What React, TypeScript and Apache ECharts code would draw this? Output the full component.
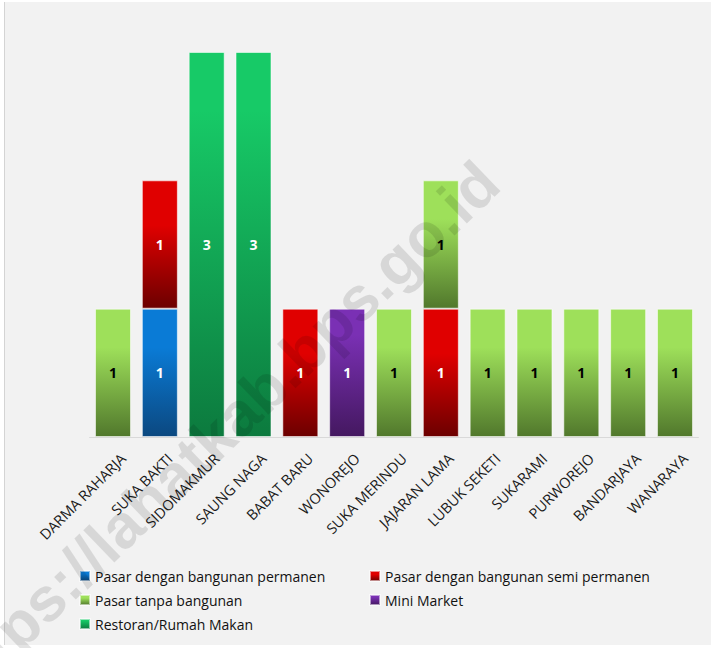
import React, { useEffect, useRef } from "react";
import * as echarts from "echarts";

const categories = [
  "DARMA RAHARJA",
  "SUKA BAKTI",
  "SIDOMAKMUR",
  "SAUNG NAGA",
  "BABAT BARU",
  "WONOREJO",
  "SUKA MERINDU",
  "JAJARAN LAMA",
  "LUBUK SEKETI",
  "SUKARAMI",
  "PURWOREJO",
  "BANDARJAYA",
  "WANARAYA",
];

const seriesNames = [
  "Pasar dengan bangunan permanen",
  "Pasar dengan bangunan semi permanen",
  "Pasar tanpa bangunan",
  "Mini Market",
  "Restoran/Rumah Makan",
];

const permanen = [null, 1, null, null, null, null, null, null, null, null, null, null, null];
const semiPermanen = [null, 1, null, null, 1, null, null, 1, null, null, null, null, null];
const tanpaBangunan = [1, null, null, null, null, null, 1, 1, 1, 1, 1, 1, 1];
const miniMarket = [null, null, null, null, null, 1, null, null, null, null, null, null, null];
const restoran = [null, null, 3, 3, null, null, null, null, null, null, null, null, null];

const watermark = "https://lahatkab.bps.go.id";

const grad = (top: string, bottom: string, hold = 0.3) =>
  new echarts.graphic.LinearGradient(0, 0, 0, 1, [
    { offset: 0, color: top },
    { offset: hold, color: top },
    { offset: 1, color: bottom },
  ]);

export default function App() {
  const ref = useRef<HTMLDivElement>(null);

  useEffect(() => {
    if (!ref.current) return;
    const chart = echarts.init(ref.current, undefined, { renderer: "svg" });

    const palette = [
      { c: grad("#0a7bd6", "#0b4880"), label: "#ffffff" },
      { c: grad("#e00000", "#6c0000", 0.35), label: "#ffffff" },
      { c: grad("#9ee05a", "#51782c", 0.3), label: "#000000" },
      { c: grad("#7a30b4", "#441860", 0.2), label: "#ffffff" },
      { c: grad("#17ca67", "#0c7a3e", 0.15), label: "#ffffff" },
    ];
    const dataSets = [permanen, semiPermanen, tanpaBangunan, miniMarket, restoran];

    const gridLeft = 89.6;
    const gridRight = 12.6;
    const gridTop = 52;
    const gridBottom = 211;
    const labelShift = 10;

    const legendPos = [
      { left: 79, top: 569 },
      { left: 369, top: 569 },
      { left: 79, top: 593 },
      { left: 369, top: 593 },
      { left: 79, top: 617 },
    ];

    const option: any = {
      animation: false,
      backgroundColor: "transparent",
      textStyle: { fontFamily: "Open Sans" },
      grid: [
        { left: gridLeft, right: gridRight, top: gridTop, bottom: gridBottom },
        {
          left: gridLeft + labelShift,
          right: gridRight - labelShift,
          top: gridTop,
          bottom: gridBottom,
        },
      ],
      xAxis: [
        {
          type: "category",
          data: categories,
          gridIndex: 0,
          axisLine: { show: true, lineStyle: { color: "#d9d9d9", width: 1 } },
          axisTick: { show: false },
          axisLabel: { show: false },
        },
        {
          type: "category",
          data: categories,
          gridIndex: 1,
          axisLine: { show: false },
          axisTick: { show: false },
          axisLabel: {
            show: true,
            interval: 0,
            rotate: 45,
            margin: 19,
            fontSize: 14.5,
            color: "#1a1a1a",
            fontFamily: "Open Sans",
          },
        },
      ],
      yAxis: [
        { type: "value", min: 0, max: 3, gridIndex: 0, show: false },
        { type: "value", min: 0, max: 3, gridIndex: 1, show: false },
      ],
      legend: seriesNames.map((name, i) => ({
        data: [name],
        left: legendPos[i].left,
        top: legendPos[i].top,
        icon: "rect",
        itemWidth: 10,
        itemHeight: 10,
        padding: 0,
        selectedMode: false,
        textStyle: { fontSize: 14, color: "#111", fontFamily: "Open Sans" },
      })),
      series: seriesNames.map((name, i) => ({
        name,
        type: "bar",
        stack: "total",
        xAxisIndex: 0,
        yAxisIndex: 0,
        barWidth: 36,
        data: dataSets[i],
        itemStyle: {
          color: palette[i].c,
          borderColor: "rgba(255,255,255,0.55)",
          borderWidth: 1,
        },
        label: {
          show: true,
          position: "inside",
          fontSize: 14,
          fontWeight: "bold",
          color: palette[i].label,
          fontFamily: "Open Sans",
        },
      })),
      graphic: [
        {
          type: "text",
          x: 218,
          y: 433,
          rotation: Math.PI / 4 - 0.02,
          z: 100,
          silent: true,
          style: {
            text: watermark,
            fontSize: 62,
            fontWeight: "bold",
            fontFamily: "Liberation Sans",
            fill: "rgba(0,0,0,0.11)",
            align: "center",
            verticalAlign: "middle",
          },
        },
      ],
    };

    chart.setOption(option);
    return () => chart.dispose();
  }, []);

  return (
    <div
      style={{
        position: "absolute",
        left: 0,
        top: 0,
        width: 711,
        height: 648,
        background: "#ffffff",
        overflow: "hidden",
      }}
    >
      <div
        style={{
          position: "absolute",
          left: 4,
          top: 2,
          width: 707,
          height: 643,
          background: "#f2f2f2",
          borderLeft: "1px solid #d4d4d4",
          boxSizing: "border-box",
        }}
      />
      <div
        ref={ref}
        style={{ position: "absolute", left: 0, top: 0, width: 711, height: 648 }}
      />
    </div>
  );
}
